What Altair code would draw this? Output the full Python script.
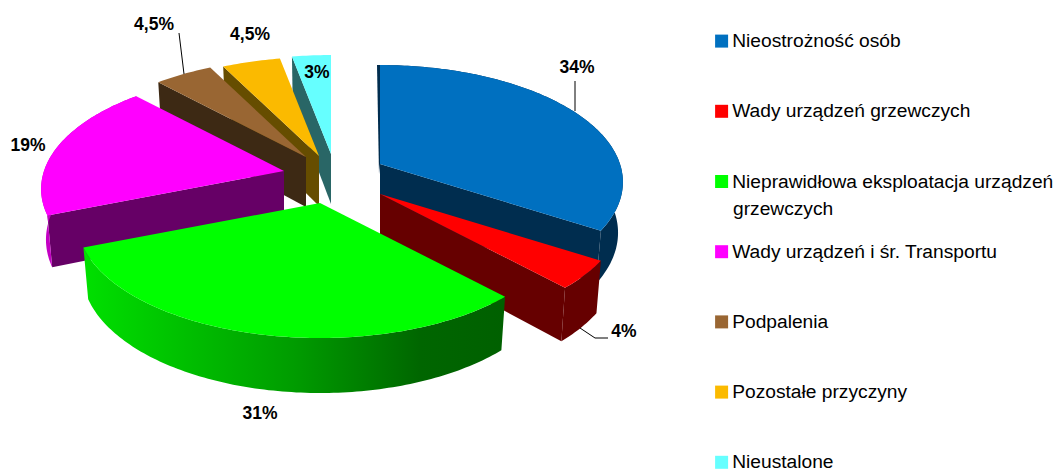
import math
import altair as alt
import pandas as pd

causes = ["Nieostrożność osób", "Wady urządzeń grzewczych",
          "Nieprawidłowa eksploatacja urządzeń grzewczych",
          "Wady urządzeń i śr. Transportu", "Podpalenia",
          "Pozostałe przyczyny", "Nieustalone"]
shares = [34, 4, 31, 19, 4.5, 4.5, 3]
share_labels = ["34%", "4%", "31%", "19%", "4,5%", "4,5%", "3%"]
top_colors = ["#0070C0", "#FF0000", "#00FF00", "#FF00FF", "#996633", "#FBBA00", "#66FFFF"]
wall_colors = ["#002D4F", "#660000", "#006000", "#660066", "#3D2914", "#664D00", "#296666"]
outer_colors = ["#002D4F", "#660000", None, "#C400C4", "#3D2914", "#664D00", "#296666"]

# layout: exploded slice apex in page pixels, label centres, leader lines
apex = [(380, 163), (380, 193), (320, 202), (284, 170), (306, 156), (319, 155), (331, 153)]
radial_wall = ["end", "end", None, "start", "start", "start", "start"]
label_pos = [(577, 67), (624, 331), (260, 413), (28, 145), (154, 24), (250, 34), (317, 72)]
leaders = [[(575, 80), (575, 110)], [(608, 337), (595, 337), (580, 327)], [(179, 32), (184, 73)]]
RX, RY, PERSP = 240, 114.2, 0.154


def project(i, theta):
    d = 1 + PERSP * math.cos(theta)
    return (apex[i][0] + RX * math.sin(theta) / d, apex[i][1] - RY * math.cos(theta) / d)


def lower(i, p):
    dy = p[1] - apex[i][1]
    return (apex[i][0] + (p[0] - apex[i][0]) * 0.98, p[1] + 50 + dy / 135 * 5)


def frame(points, **extra):
    return pd.DataFrame([dict(x=p[0], y=p[1], n=k, **extra) for k, p in enumerate(points)])


xs = alt.Scale(domain=[8, 1056], nice=False, zero=False)
ys = alt.Scale(domain=[472, 7], nice=False, zero=False)


def poly(points, fill):
    return alt.Chart(frame(points)).mark_line(fill=fill, strokeWidth=0, interpolate="linear").encode(
        x=alt.X("x:Q", scale=xs, axis=None), y=alt.Y("y:Q", scale=ys, axis=None), order="n:Q")


green_gradient = alt.Gradient(
    gradient="linear", x1=0, x2=1, y1=0, y2=0,
    stops=[alt.GradientStop(offset=0, color="#00E000"),
           alt.GradientStop(offset=0.5, color="#009C00"),
           alt.GradientStop(offset=0.8, color="#006600"),
           alt.GradientStop(offset=1, color="#006000")])

bounds = []
acc = 0.0
for s in shares:
    bounds.append((acc / 100 * 2 * math.pi, (acc + s) / 100 * 2 * math.pi))
    acc += s

walls = []
tops = []
for i in [6, 5, 4, 3, 0, 1, 2]:
    a, b = bounds[i]
    steps = max(4, int((b - a) * 60))
    arc = [project(i, a + (b - a) * k / steps) for k in range(steps + 1)]
    if radial_wall[i]:
        p = arc[0] if radial_wall[i] == "start" else arc[-1]
        walls.append(poly([apex[i], p, lower(i, p), lower(i, apex[i])], wall_colors[i]))
    if i == 0:
        # thin visible edge of the first slice's starting wall
        walls.append(poly([arc[0], (arc[0][0] - 3, arc[0][1]), (apex[0][0] - 1, apex[0][1] + 10), apex[0]], wall_colors[0]))
    if i in (0, 1, 2, 3):
        fill = outer_colors[i] if outer_colors[i] else green_gradient
        walls.append(poly(arc + [lower(i, p) for p in reversed(arc)], fill))
    tops.append(frame([apex[i]] + arc, cause=causes[i]))

top_layer = alt.Chart(pd.concat(tops, ignore_index=True)).mark_line(strokeWidth=0, interpolate="linear").encode(
    x=alt.X("x:Q", scale=xs, axis=None),
    y=alt.Y("y:Q", scale=ys, axis=None),
    order="n:Q",
    fill=alt.Fill("cause:N", scale=alt.Scale(domain=causes, range=top_colors), sort=causes,
                  legend=alt.Legend(
                      title=None, orient="none", legendX=704, legendY=23.5,
                      symbolType="square", symbolSize=169, symbolStrokeWidth=0, symbolOpacity=1,
                      labelFont="Liberation Sans", labelFontSize=19.2, labelColor="#000000",
                      labelLimit=400, rowPadding=50.2, labelOffset=1,
                      labelExpr="indexof(datum.label,'eksploatacja')>=0 ? replace(datum.label,' grzewczych','') : datum.label")),
)

leader_layers = [
    alt.Chart(frame(line)).mark_line(color="#000000", strokeWidth=1).encode(
        x=alt.X("x:Q", scale=xs, axis=None), y=alt.Y("y:Q", scale=ys, axis=None), order="n:Q")
    for line in leaders
]

labels = alt.Chart(pd.DataFrame({
    "x": [p[0] for p in label_pos], "y": [p[1] for p in label_pos], "t": share_labels,
})).mark_text(font="Liberation Sans", fontWeight="bold", fontSize=17.5, color="#000000").encode(
    x=alt.X("x:Q", scale=xs, axis=None), y=alt.Y("y:Q", scale=ys, axis=None), text="t:N")

wrap = alt.Chart(pd.DataFrame({"x": [733], "y": [208], "t": ["grzewczych"]})).mark_text(
    font="Liberation Sans", fontSize=19.2, color="#000000", align="left").encode(
    x=alt.X("x:Q", scale=xs, axis=None), y=alt.Y("y:Q", scale=ys, axis=None), text="t:N")

chart = alt.layer(*walls, top_layer, *leader_layers, labels, wrap).properties(
    width=1048, height=465, autosize=alt.AutoSizeParams(type="none"),
    padding={"left": 0, "top": 0, "right": 0, "bottom": 0},
).configure_view(stroke=None)

chart.save("out.html", embed_options={"renderer": "svg", "actions": False})
